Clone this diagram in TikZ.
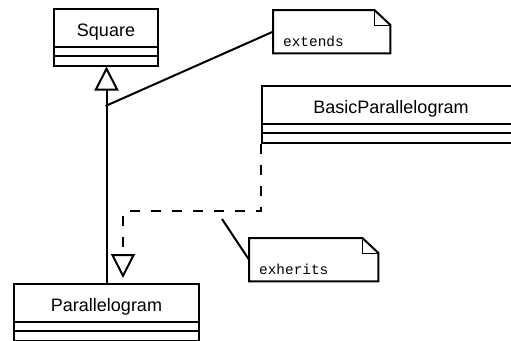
\documentclass[tikz,border=0pt]{standalone}
\usepackage{fontspec}
\setmainfont{Liberation Sans}
\newfontfamily\notefont{Liberation Mono}
\usetikzlibrary{shapes.multipart,arrows.meta}

\tikzset{
  umlclass/.style={rectangle split, rectangle split parts=3, draw, line width=2pt,
    inner xsep=0pt, inner ysep=0pt, align=center, font=\fontsize{18}{20}\selectfont},
  umlnote/.style={minimum width=#1, minimum height=43pt, inner ysep=0pt, inner xsep=10pt,
    text width=#1-20pt, align=left, text height=33pt, text depth=4pt,
    font=\notefont\fontsize{14.4}{16}\selectfont},
  inherit/.style={line width=2pt, -{Triangle[open, length=24pt, width=24pt, line width=2pt]}},
  realize/.style={inherit, dash pattern=on 10pt off 11pt},
}

\newcommand{\namepart}{\rule[-9pt]{0pt}{35.5pt}}
\newcommand{\emptypart}{\rule{0pt}{7.5pt}}

\begin{document}
\begin{tikzpicture}[x=1pt, y=-1pt]
  \clip (0,0) rectangle (511,340);
  \fill[white] (0,0) rectangle (511,340);

  \node[umlclass, text width=104pt, anchor=north west] (sq) at (53,8)
    {\namepart Square\nodepart{two}\emptypart\nodepart{three}\emptypart};
  \node[umlclass, text width=258pt, anchor=north west] (bp) at (261,85)
    {\namepart BasicParallelogram\nodepart{two}\emptypart\nodepart{three}\emptypart};
  \node[umlclass, text width=185pt, anchor=north west] (pg) at (13,283)
    {\namepart Parallelogram\nodepart{two}\emptypart\nodepart{three}\emptypart};

  \node[umlnote=117pt, anchor=north west] (ext) at (273,10) {extends};
  \node[umlnote=129pt, anchor=north west, inner xsep=9pt] (exh) at (249,238) {exherits};
  \foreach \n in {ext,exh} {
    \draw[line width=2pt, line join=miter]
      (\n.north west) -- ([xshift=-16pt]\n.north east) -- ([yshift=-15pt]\n.north east)
      -- (\n.south east) -- (\n.south west) -- cycle;
    \draw[line width=1pt] ([xshift=-16pt]\n.north east) -- ([xshift=-16pt,yshift=-15pt]\n.north east)
      -- ([yshift=-15pt]\n.north east);
  }

  \coordinate (ja) at (105.5,106);
  \coordinate (dk) at (123,211);
  \coordinate (ek) at (222,219);

  \draw[inherit] (pg.north) -- (pg.north |- sq.south);
  \draw[line width=2pt] (ext.west) -- (ja);
  \draw[realize, shorten >=5pt] (bp.south west) |- (dk) -- (pg.north -| dk);
  \draw[line width=2pt] (exh.west) -- (ek);
\end{tikzpicture}
\end{document}
